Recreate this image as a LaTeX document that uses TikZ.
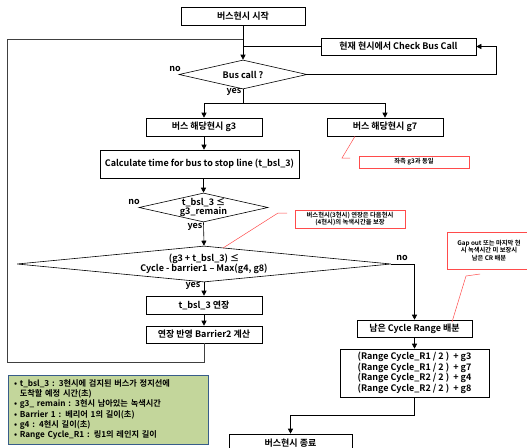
\documentclass[tikz,border=0pt]{standalone}
\usepackage{fontspec}
\setmainfont{Noto Sans CJK KR Bold}
\usetikzlibrary{shapes.geometric,arrows.meta}
\definecolor{legendfill}{HTML}{C3D69B}
\definecolor{legenddraw}{HTML}{385D8A}
\definecolor{notered}{HTML}{FF4B4B}
\begin{document}
\begin{tikzpicture}[x=1pt,y=-1pt, line width=0.6pt,
        font=\fontsize{9}{10.5}\selectfont,
        box/.style={draw, fill=white, minimum height=18pt, inner sep=1pt, align=center},
        dec/.style={draw, diamond, inner sep=0pt},
        note/.style={draw=notered, thick, inner sep=1pt, align=center, font=\fontsize{6.3}{7.5}\selectfont},
        redline/.style={notered, line width=0.5pt},
        flow/.style={-{Triangle[length=5pt,width=5pt]}},
        loopline/.style={black!75}]
        \useasboundingbox (0,0) rectangle (527,447);

        % main flow
        \node[box, minimum width=124pt] (start) at (243,16) {버스현시 시작};
        \node[box, minimum width=155pt, minimum height=17pt] (check) at (398.5,46.5) {현재 현시에서 Check Bus Call};
        \node[dec, minimum width=128pt, minimum height=29pt] (buscall) at (243,74.5) {};
        \node (buscallt) at (buscall) {Bus call ?};

        \node[box, minimum width=116pt] (g3) at (204,127) {버스 해당현시 g3};
        \node[box, minimum width=116pt] (g7) at (385,127) {버스 해당현시 g7};
        \node[box, minimum width=199pt, minimum height=28pt] (calc) at (199.5,164) {Calculate time for bus to stop line (t\_bsl\_3)};

        \node[dec, minimum width=129pt, minimum height=29pt] (bsl) at (203.5,207.5) {};
        \node[align=center, font=\fontsize{9}{9.8}\selectfont] (bslt) at (bsl) {t\_bsl\_3 ≤\\g3\_remain};
        \node[dec, minimum width=374pt, minimum height=36pt] (cyc) at (204,264) {};
        \node[align=center] (cyct) at (cyc) {(g3 + t\_bsl\_3) ≤\\Cycle - barrier1 – Max(g4, g8)};

        \node[box, minimum width=116pt] (ext) at (204,305) {t\_bsl\_3 연장};
        \node[box, minimum width=116pt, minimum height=17pt] (bar2) at (204,334.5) {연장 반영 Barrier2 계산};

        \node[box, minimum width=115pt, minimum height=17pt] (remain) at (414.5,328.5) {남은 Cycle Range 배분};
        \node[box, minimum width=149pt, minimum height=48pt] (range) at (414.5,373)
            {(Range Cycle\_R1 / 2 )~~+ g3\\(Range Cycle\_R1 / 2 )~~+ g7\\(Range Cycle\_R2 / 2 )~~+ g4\\(Range Cycle\_R2 / 2 )~~+ g8};
        \node[box, minimum width=123pt] (end) at (290.5,443) {버스현시 종료};

        % labels
        \node (no1) at (175,69) {no};
        \node (yes1) at (234,92) {yes};
        \node (no2) at (134,202) {no};
        \node (yes2) at (195,227) {yes};
        \node (no3) at (402,258) {no};
        \node (yes3) at (193,286) {yes};

        % connectors
        \coordinate (rt) at (496,74.5);
        \coordinate (split) at (243,103);
        \coordinate (lb) at (7,362);
        \coordinate (lt) at (7,39.5);

        \draw[flow] (start) -- (buscall);
        \draw (check.west) -- (check.west -| buscall);
        \draw[flow] (buscall.east) -- (rt) |- (check.east);
        \draw (buscall.south) -- (split);
        \draw[flow] (split) -| (g3.north);
        \draw[flow] (split) -| (g7.north);
        \draw[flow] (g3.south) -- (g3.south |- calc.north);
        \draw[flow] (calc.south -| bsl) -- (bsl.north);
        \draw[flow] (bsl.south) -- (cyc.north);
        \draw[flow] (cyc.south) -- (ext.north);
        \draw[flow] (ext) -- (bar2);
        \draw[loopline] (bar2.south) |- (lb) -- (lt) -- (lt -| start.south);
        \draw[flow] (cyc.east) -| (remain.north);
        \draw[flow] (remain) -- (range);
        \draw[flow] (range.south) -- ++(0,18) -| (end.north);

        % notes
        \node[note, minimum width=110pt, minimum height=12pt] (n1) at (414,162) {좌측 g3과 동일};
        \node[note, minimum width=110pt, minimum height=18pt] (n2) at (350,219) {버스현시(3현시) 연장은 다음현시\\(4현시)의 녹색시간을 보장};
        \node[note, minimum width=84pt, minimum height=37pt] (n3) at (489,250.5) {Gap out 또는 마지막 현\\시 녹색시간 미 보장시\\남은 CR 배분};

        \coordinate (a1) at (342,158);
        \coordinate (a2) at (350,158);
        \coordinate (b1) at (287,213);
        \coordinate (b2) at (278,213);
        \coordinate (b3) at (223,248);
        \coordinate (c1) at (480,274);
        \coordinate (c2) at (466,276);
        \coordinate (c3) at (452,322);
        \draw[redline] ([xshift=-30pt]g7.south) -- (a1) -- (a2);
        \draw[redline] (b1) -- (b2) -- (b3);
        \draw[redline] (c1) -- (c2) -- (c3);

        % legend
        \node[draw=legenddraw, thick, fill=legendfill, minimum height=69pt, text width=188pt,
            align=left, inner xsep=6pt, inner ysep=2pt, font=\fontsize{8.2}{10.3}\selectfont] (legend) at (108,409.5)
            {• t\_bsl\_3 : 3현시에 검지된 버스가 정지선에\\
             \phantom{• }도착할 예정 시간(초)\\
             • g3\_ remain : 3현시 남아있는 녹색시간\\
             • Barrier 1 : 베리어 1의 길이(초)\\
             • g4 : 4현시 길이(초)\\
             • Range Cycle\_R1 : 링1의 레인지 길이};
    \end{tikzpicture}
\end{document}
